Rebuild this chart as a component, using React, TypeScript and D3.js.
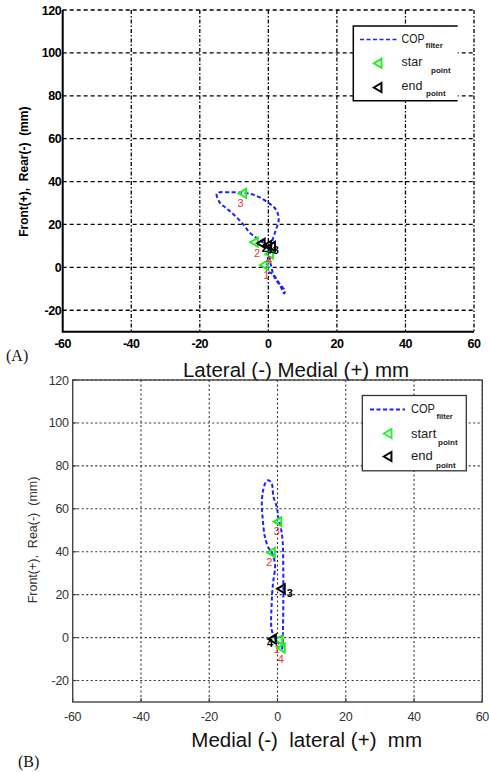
import React from "react";
import * as d3 from "d3";

// ---------- shared ticks ----------
const xTicks = [-60, -40, -20, 0, 20, 40, 60];
const yTicks = [-20, 0, 20, 40, 60, 80, 100, 120];

// ---------- Panel A data ----------
const aPathX = [-0.5, -0.2, 1.3, 3.3, 4.8, 4.6, 3.6, 1.8, 0.9, 0.4, 0.7, 1.3, 2.3, 3.0, 2.8, 1.8, 0.4, -2.5, -5, -7.4, -11, -15.0, -14.2, -12.2, -10.3, -7.4, -5.5, -3.0, -0.6, -0.1, -0.5];
const aPathY = [0.5, -2, -3.1, -7.7, -10.8, -12.2, -9, -4.7, 0, 4.7, 9.3, 13.2, 17.9, 21.8, 24.9, 27.8, 29.6, 32.6, 34.2, 34.8, 35, 34.5, 30.3, 27.5, 24.9, 20.2, 16.3, 13.2, 10.1, 4.7, 1];
const aStartX = [-1.1, -4.0, -7.4, 0.4];
const aStartY = [1.1, 11.7, 34.5, 6.2];
const aStartLabels = ["1", "2", "3", "4"];
const aStartLabelX = [-0.6, -3.3, -8.1, 0.2];
const aStartLabelY = [-3.5, 6.5, 30.0, 3.5];
const aEndX = [-2.0, -0.1, 1.0];
const aEndY = [11.2, 10.2, 9.8];
const aEndLabels = ["2", "1", "3"];
const aEndLabelX = [-1.0, 0.6, 2.2];
const aEndLabelY = [9.0, 8.5, 8.0];

// ---------- Panel B data ----------
const bPathX = [0.5, -0.5, -1.7, -1.7, -1.5, -1.2, -0.7, -1.2, -2.0, -2.7, -3.7, -4.3, -4.6, -4.2, -3.4, -2.7, -1.7, -1.2, -0.2, 0.2, 1.0, 1.5, 1.7, 1.7, 1.6, 1.5, 1.3];
const bPathY = [-3, -1, 3.6, 16, 22, 26.8, 33, 37.7, 40.5, 42, 47, 54.7, 62.5, 68.7, 72.5, 73.3, 71.8, 65.6, 60.9, 56.3, 51, 45, 30, 15, 3, -3, -6];
const bStartX = [0.5, -1.7, 0.2, 1.2];
const bStartY = [-1.1, 39.7, 54, -4.9];
const bStartLabels = ["1", "2", "3", "4"];
const bStartLabelX = [-0.2, -2.4, -0.2, 1.0];
const bStartLabelY = [-5.5, 35.3, 49.5, -10.0];
const bEndX = [-1.4, 1.2];
const bEndY = [-0.7, 22.7];
const bEndLabels = ["4", "3"];
const bEndLabelX = [-2.2, 3.6];
const bEndLabelY = [-2.5, 21.0];

const FONT = "'Liberation Sans', Arial, sans-serif";
const SERIF = "'Liberation Serif', 'Times New Roman', serif";

function triPath(cx: number, cy: number, s: number) {
  // left-pointing triangle
  return `M${cx - s},${cy} L${cx + s * 0.7},${cy - s} L${cx + s * 0.7},${cy + s} Z`;
}

type PanelProps = {
  variant: "A" | "B";
  left: number; right: number; top: number; bottom: number;
  pathX: number[]; pathY: number[];
  startX: number[]; startY: number[]; startLabels: string[]; startLX: number[]; startLY: number[];
  endX: number[]; endY: number[]; endLabels: string[]; endLX: number[]; endLY: number[];
};

function Panel(p: PanelProps) {
  const x = d3.scaleLinear().domain([-60, 60]).range([p.left, p.right]);
  const y = d3.scaleLinear().domain([-30, 120]).range([p.bottom, p.top]);
  const isA = p.variant === "A";
  const pts = p.pathX.map((v, i) => [v, p.pathY[i]] as [number, number]);
  const line = d3.line<[number, number]>()
    .x(d => x(d[0])).y(d => y(d[1]))
    .curve(d3.curveCatmullRom.alpha(0.5));
  const gridColor = isA ? "#000" : "#333";
  const hDash = isA ? "4,3" : "2,2.5";
  const vDash = isA ? "4,2,1.5,2" : "2,2.5";
  return (
    <g>
      {yTicks.map(t => (
        <line key={"h" + t} x1={p.left} x2={p.right} y1={y(t)} y2={y(t)}
          stroke={gridColor} strokeWidth={isA ? 1.3 : 1.1} strokeDasharray={hDash} />
      ))}
      {xTicks.filter(t => t !== -60).map(t => (
        <line key={"v" + t} x1={x(t)} x2={x(t)} y1={p.top} y2={p.bottom}
          stroke={gridColor} strokeWidth={isA ? 1.3 : 1.1} strokeDasharray={vDash} />
      ))}
      {isA ? (
        <path d={`M${p.left},${p.top} V${p.bottom} H${p.right}`} fill="none" stroke="#000" strokeWidth={2} />
      ) : (
        <rect x={p.left} y={p.top} width={p.right - p.left} height={p.bottom - p.top}
          fill="none" stroke="#444" strokeWidth={1.4} />
      )}
      {!isA && xTicks.map(t => (
        <line key={"tx" + t} x1={x(t)} x2={x(t)} y1={p.bottom} y2={p.bottom - 4} stroke="#444" strokeWidth={1.2} />
      ))}
      {!isA && yTicks.map(t => (
        <line key={"ty" + t} x1={p.left} x2={p.left + 4} y1={y(t)} y2={y(t)} stroke="#444" strokeWidth={1.2} />
      ))}
      {xTicks.map(t => (
        <text key={"lx" + t} x={x(t)} y={p.bottom + (isA ? 16 : 19)} textAnchor="middle"
          fontFamily={FONT} fontSize={12.5} fontWeight={isA ? 700 : 400}
          fill={isA ? "#000" : "#333"} letterSpacing={isA ? -0.5 : -0.3}>{t}</text>
      ))}
      {yTicks.map(t => (
        <text key={"ly" + t} x={p.left - (isA ? 1.5 : 4)} y={y(t) + 4.5} textAnchor="end"
          fontFamily={FONT} fontSize={12.5} fontWeight={isA ? 700 : 400}
          fill={isA ? "#000" : "#333"} letterSpacing={isA ? -0.5 : -0.3}>{t}</text>
      ))}
      <path d={line(pts) || ""} fill="none" stroke="#1f1fff" strokeWidth={2} strokeDasharray="4,2.5" />
      {p.startX.map((v, i) => (
        <g key={"s" + i}>
          <path d={triPath(x(v), y(p.startY[i]), 4.5)} fill="none" stroke="#22ee22" strokeWidth={2} />
          <text x={x(p.startLX[i])} y={y(p.startLY[i]) + 4} textAnchor="middle" fontFamily={FONT}
            fontSize={11} fill="#ee3333">{p.startLabels[i]}</text>
        </g>
      ))}
      {p.endX.map((v, i) => (
        <g key={"e" + i}>
          <path d={triPath(x(v), y(p.endY[i]), 4.5)} fill="none" stroke="#000" strokeWidth={2} />
          <text x={x(p.endLX[i])} y={y(p.endLY[i]) + 4} textAnchor="middle" fontFamily={FONT}
            fontSize={11} fontWeight={700} fill="#000">{p.endLabels[i]}</text>
        </g>
      ))}
    </g>
  );
}

function LegendA() {
  return (
    <g fontFamily={FONT}>
      <rect x={353.3} y={26} width={104.4} height={74.7} fill="#fff" stroke="none" />
      <path d="M457.7,26 H353.3 V100.7 H457.7" fill="none" stroke="#000" strokeWidth={1.5} />
      <line x1={360} x2={397} y1={39.5} y2={39.5} stroke="#1f1fff" strokeWidth={1.5} strokeDasharray="4,2.5" />
      <text x={401.5} y={42.5} fontSize={12.5} fill="#222" textLength={23} lengthAdjust="spacingAndGlyphs">COP</text>
      <text x={425.5} y={48} fontSize={8} fontWeight={700} fill="#222">filter</text>
      <path d={triPath(378.3, 63.3, 4.5)} fill="none" stroke="#22ee22" strokeWidth={2} />
      <text x={401.5} y={66} fontSize={12.5} fill="#222">star</text>
      <text x={431} y={72.5} fontSize={8} fontWeight={700} fill="#222">point</text>
      <path d={triPath(378.3, 87.5, 4.5)} fill="none" stroke="#000" strokeWidth={2} />
      <text x={401.5} y={89.5} fontSize={12.5} fill="#222">end</text>
      <text x={426} y={96} fontSize={8} fontWeight={700} fill="#222">point</text>
    </g>
  );
}

function LegendB() {
  return (
    <g fontFamily={FONT}>
      <rect x={362.3} y={395.5} width={104} height={75.3} fill="#fff" stroke="#333" strokeWidth={1.3} />
      <line x1={370} x2={405} y1={409.5} y2={409.5} stroke="#1f1fff" strokeWidth={2} strokeDasharray="4,2.5" />
      <text x={411} y={412.5} fontSize={13} fill="#222" textLength={24} lengthAdjust="spacingAndGlyphs">COP</text>
      <text x={436.5} y={418.5} fontSize={7.5} fontWeight={700} fill="#222">filter</text>
      <path d={triPath(388.3, 433.5, 4.5)} fill="none" stroke="#33ee33" strokeWidth={2} />
      <text x={411} y={437.5} fontSize={13} fill="#222">start</text>
      <text x={438} y={445} fontSize={8} fontWeight={700} fill="#222">point</text>
      <path d={triPath(388.3, 456.5, 4.5)} fill="none" stroke="#000" strokeWidth={2} />
      <text x={411} y={460} fontSize={13} fill="#222">end</text>
      <text x={436} y={467.5} fontSize={8} fontWeight={700} fill="#222">point</text>
    </g>
  );
}

export default function App() {
  return (
    <svg width={489} height={772} style={{ position: "absolute", left: 0, top: 0, background: "#fff" }}>
      <rect width={489} height={772} fill="#fff" />
      <Panel variant="A" left={62.7} right={474} top={10} bottom={331.7}
        pathX={aPathX} pathY={aPathY}
        startX={aStartX} startY={aStartY} startLabels={aStartLabels} startLX={aStartLabelX} startLY={aStartLabelY}
        endX={aEndX} endY={aEndY} endLabels={aEndLabels} endLX={aEndLabelX} endLY={aEndLabelY} />
      <LegendA />
      <text transform="translate(28,171.7) rotate(-90)" textAnchor="middle" fontFamily={FONT}
        fontSize={12} fontWeight={700} xmlSpace="preserve" style={{ whiteSpace: "pre" }}>{"Front(+),  Rear(-)  (mm)"}</text>
      <text x={296} y={377} textAnchor="middle" fontFamily={FONT} fontSize={20.5} fill="#111">Lateral (-) Medial (+) mm</text>
      <text x={6} y={361} fontFamily={SERIF} fontSize={16} fill="#111">(A)</text>

      <Panel variant="B" left={72.7} right={482.3} top={380} bottom={702}
        pathX={bPathX} pathY={bPathY}
        startX={bStartX} startY={bStartY} startLabels={bStartLabels} startLX={bStartLabelX} startLY={bStartLabelY}
        endX={bEndX} endY={bEndY} endLabels={bEndLabels} endLX={bEndLabelX} endLY={bEndLabelY} />
      <LegendB />
      <text transform="translate(37,540) rotate(-90)" textAnchor="middle" fontFamily={FONT}
        fontSize={12.5} fill="#333" xmlSpace="preserve" style={{ whiteSpace: "pre" }}>{"Front(+),  Rea(-)  (mm)"}</text>
      <text x={306.7} y={746.5} textAnchor="middle" fontFamily={FONT} fontSize={20.5} fill="#111"
        xmlSpace="preserve" style={{ whiteSpace: "pre" }}>{"Medial (-)  lateral (+)  mm"}</text>
      <text x={18} y={767} fontFamily={SERIF} fontSize={16} fill="#111">(B)</text>
    </svg>
  );
}
